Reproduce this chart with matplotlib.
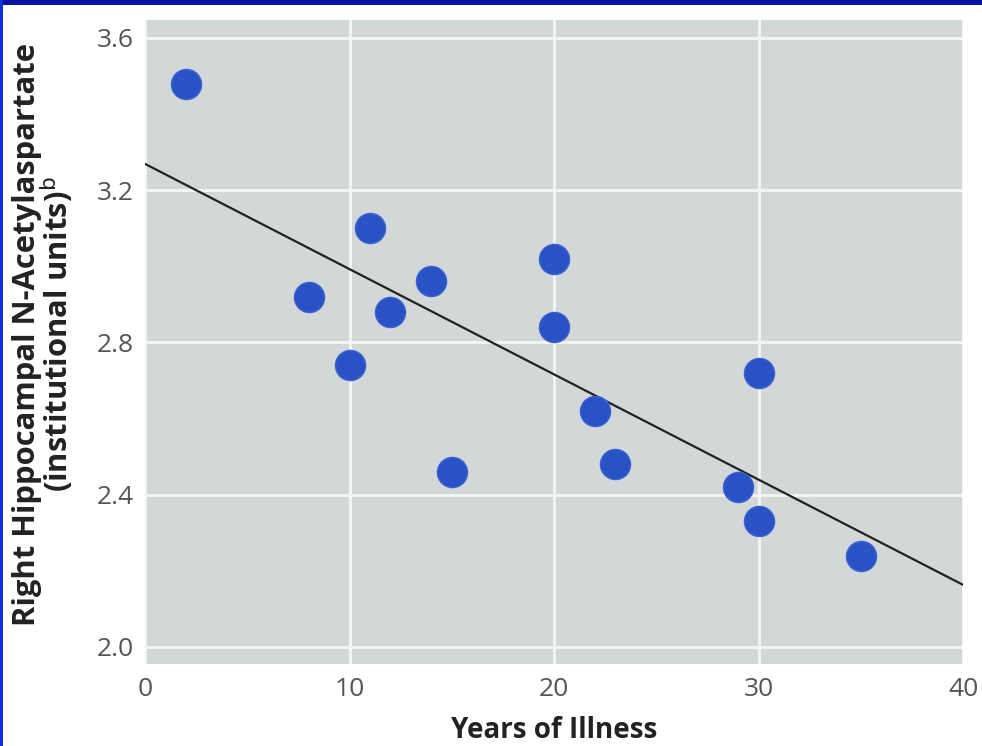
import matplotlib
matplotlib.use("Agg")
import matplotlib.pyplot as plt
from matplotlib.patches import Rectangle
import numpy as np

years = [2, 8, 11, 10, 12, 14, 15, 20, 20, 22, 23, 30, 29, 30, 35]
naa = [3.48, 2.92, 3.10, 2.74, 2.88, 2.96, 2.46, 3.02, 2.84, 2.62, 2.48, 2.72, 2.42, 2.33, 2.24]
fit_intercept = 3.269
fit_slope = -0.02765
xticks = [0, 10, 20, 30, 40]
yticks = [2.0, 2.4, 2.8, 3.2, 3.6]

plt.rcParams['font.family'] = ['Open Sans', 'DejaVu Sans']

fig = plt.figure(figsize=(9.82, 7.46), dpi=100)
fig.patch.set_facecolor('white')
ax = fig.add_axes([145/982, 82/746, 818/982, 644/746])
ax.set_facecolor('#d2d7d7')
ax.set_xlim(0, 40)
ax.set_ylim(1.955, 3.647)
ax.set_xticks(xticks)
ax.set_yticks(yticks)
ax.set_yticklabels([f"{v:.1f}" for v in yticks])
ax.grid(True, color='#f2f4f4', linewidth=2.2)
ax.set_axisbelow(True)
for s in ax.spines.values():
    s.set_visible(False)
ax.tick_params(length=0, labelsize=19, labelcolor='#555555')
ax.tick_params(axis='y', pad=8)
ax.tick_params(axis='x', pad=9)

xl = np.array([0, 40])
ax.plot(xl, fit_intercept + fit_slope * xl, color='#222222', linewidth=1.6, zorder=2)
ax.scatter(years, naa, s=470, color='#2852c6', edgecolors='#3a62d0', linewidths=1, zorder=3)

ax.set_xlabel('Years of Illness', fontsize=20, fontweight='bold', color='#222222')
ax.xaxis.set_label_coords(0.5, -0.080)
ax.set_ylabel('Right Hippocampal N-Acetylaspartate\n(institutional units)$^{\\mathrm{b}}$',
              fontsize=22.3, fontweight='bold', color='#222222', linespacing=0.88)
ax.yaxis.set_label_coords(-0.085, 0.5116)

fig.patches.append(Rectangle((0, 1 - 5/746), 1, 5/746, transform=fig.transFigure,
                             facecolor='#0a14a0', edgecolor='none', zorder=10))
fig.patches.append(Rectangle((0, 0), 2.5/982, 1, transform=fig.transFigure,
                             facecolor='#1030e0', edgecolor='none', zorder=10))

fig.savefig('out.png', dpi=100, facecolor='white')
